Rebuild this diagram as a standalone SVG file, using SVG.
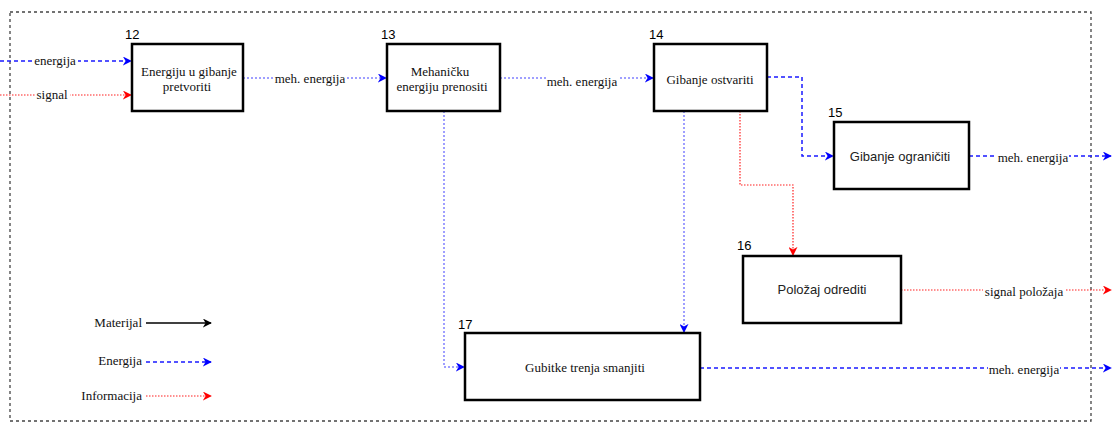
<svg xmlns="http://www.w3.org/2000/svg" width="1113" height="423" viewBox="0 0 1113 423">
<style>
.box{fill:#fff;stroke:#000;stroke-width:2.5}
.num{font-family:"Liberation Sans",Arial,sans-serif;font-size:13px;fill:#000}
.ser{font-family:"Liberation Serif","Times New Roman",serif;font-size:13px;fill:#111;text-anchor:middle}
.san{font-family:"Liberation Sans",Arial,sans-serif;font-size:13px;fill:#222;text-anchor:middle}
.lbl{font-family:"Liberation Serif","Times New Roman",serif;font-size:13px;fill:#111;text-anchor:middle}
.bg{fill:#fff}
.leg{font-family:"Liberation Serif","Times New Roman",serif;font-size:13px;fill:#111;text-anchor:end}
.en{fill:none;stroke:#1a1aff;stroke-width:1.5;stroke-dasharray:4 3}
.en2{fill:none;stroke:#8080ff;stroke-width:1.5;stroke-dasharray:2 2}
.inf{fill:none;stroke:#ff2020;stroke-width:1.2;stroke-dasharray:1.5 1.5}
.mat{fill:none;stroke:#000;stroke-width:1.5}
</style>
<defs>
<marker id="ab" viewBox="0 0 10 10" refX="9" refY="5" markerWidth="9" markerHeight="9" markerUnits="userSpaceOnUse" orient="auto"><path d="M0,0 L10,5 L0,10 L3,5 z" fill="#0000ff"/></marker>
<marker id="ar" viewBox="0 0 10 10" refX="9" refY="5" markerWidth="9" markerHeight="9" markerUnits="userSpaceOnUse" orient="auto"><path d="M0,0 L10,5 L0,10 L3,5 z" fill="#ff0000"/></marker>
<marker id="ak" viewBox="0 0 10 10" refX="9" refY="5" markerWidth="9" markerHeight="9" markerUnits="userSpaceOnUse" orient="auto"><path d="M0,0 L10,5 L0,10 L3,5 z" fill="#000"/></marker>
</defs>
<rect x="10" y="12" width="1081" height="409" fill="none" stroke="#444" stroke-width="1.3" stroke-dasharray="3 3"/>
<g id="connectors">
<path class="en" d="M0,61 H131" marker-end="url(#ab)"/>
<path class="inf" d="M0,95 H131" marker-end="url(#ar)"/>
<path class="en2" d="M243,78 H386" marker-end="url(#ab)"/>
<path class="en2" d="M500,78 H653" marker-end="url(#ab)"/>
<path class="en" d="M767,77 H802 V156 H833" marker-end="url(#ab)"/>
<path class="en" d="M969,156 H1111" marker-end="url(#ab)"/>
<path class="inf" d="M740,111 V185 H793 V255" marker-end="url(#ar)"/>
<path class="en2" d="M684,111 V332" marker-end="url(#ab)"/>
<path class="en2" d="M444,111 V367 H464" marker-end="url(#ab)"/>
<path class="inf" d="M901,290 H1111" marker-end="url(#ar)"/>
<path class="en" d="M700,368 H1111" marker-end="url(#ab)"/>
<rect class="bg" x="33" y="54" width="45" height="14"/>
<text class="lbl" x="55" y="65">energija</text>
<rect class="bg" x="35" y="88" width="35" height="14"/>
<text class="lbl" x="52" y="99">signal</text>
<rect class="bg" x="274" y="72" width="72" height="14"/>
<text class="lbl" x="310" y="83">meh. energija</text>
<rect class="bg" x="546" y="75" width="72" height="14"/>
<text class="lbl" x="582" y="86">meh. energija</text>
<rect class="bg" x="997" y="151" width="72" height="14"/>
<text class="lbl" x="1033" y="162">meh. energija</text>
<rect class="bg" x="983" y="285" width="82" height="14"/>
<text class="lbl" x="1024" y="296">signal položaja</text>
<rect class="bg" x="988" y="363" width="72" height="14"/>
<text class="lbl" x="1024" y="374">meh. energija</text>
</g>
<g id="n12">
<rect class="box" x="132" y="44" width="111" height="67"/>
<text class="num" x="125" y="39">12</text>
<text class="ser" x="189" y="76">Energiju u gibanje</text>
<text class="ser" x="187" y="91">pretvoriti</text>
</g>
<g id="n13">
<rect class="box" x="387" y="44" width="113" height="67"/>
<text class="num" x="381" y="39">13</text>
<text class="ser" x="440" y="76">Mehaničku</text>
<text class="ser" x="442" y="91">energiju prenositi</text>
</g>
<g id="n14">
<rect class="box" x="654" y="44" width="113" height="67"/>
<text class="num" x="649" y="39">14</text>
<text class="ser" x="710" y="84">Gibanje ostvariti</text>
</g>
<g id="n15">
<rect class="box" x="834" y="122" width="135" height="67"/>
<text class="num" x="828" y="117">15</text>
<text class="san" x="900" y="161">Gibanje ograničiti</text>
</g>
<g id="n16">
<rect class="box" x="743" y="256" width="158" height="67"/>
<text class="num" x="737" y="250">16</text>
<text class="san" x="822" y="294">Položaj odrediti</text>
</g>
<g id="n17">
<rect class="box" x="465" y="333" width="235" height="67"/>
<text class="num" x="458" y="329">17</text>
<text class="ser" x="585" y="372">Gubitke trenja smanjiti</text>
</g>
<g id="legend">
<text class="leg" x="142" y="327">Materijal</text>
<path class="mat" d="M146,323 H211" marker-end="url(#ak)"/>
<text class="leg" x="142" y="365">Energija</text>
<path class="en" d="M146,362 H211" marker-end="url(#ab)"/>
<text class="leg" x="142" y="400">Informacija</text>
<path class="inf" d="M146,396 H211" marker-end="url(#ar)"/>
</g>
</svg>
